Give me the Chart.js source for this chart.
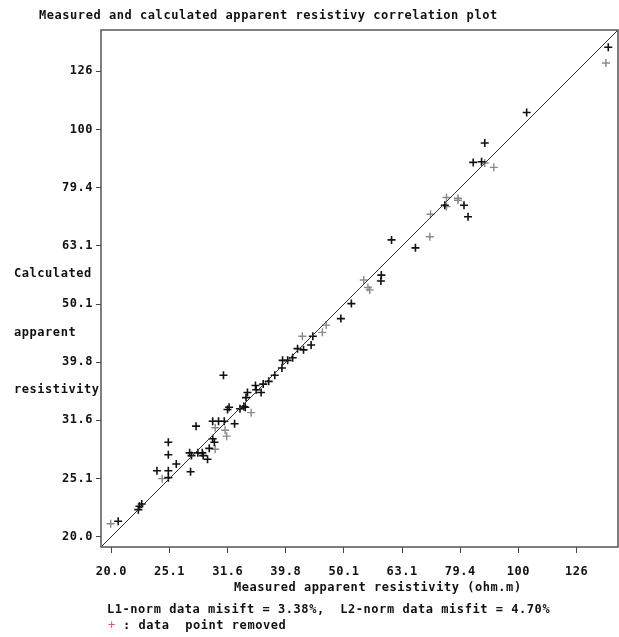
<!DOCTYPE html>
<html>
<head>
<meta charset="utf-8">
<script src="https://cdn.jsdelivr.net/npm/chart.js@4/dist/chart.umd.min.js"></script>
<style>
  html, body { margin: 0; padding: 0; background: #fff; }
</style>
</head>
<body>
<canvas id="corr" width="619" height="637"></canvas>
<script>
// apparent resistivity (ohm.m): measured vs calculated
const measuredMain = [20.5, 22.2, 22.3, 22.5, 31.1, 25.0, 25.0, 25.8, 23.9, 25.0, 25.0, 27.3,
  27.9, 27.2, 27.4, 28.1, 28.6, 28.7, 29.2, 29.4, 29.8, 30.0, 29.8, 30.5, 31.2, 32.5, 31.6,
  31.8, 33.2, 33.7, 33.9, 34.0, 34.2, 35.3, 35.4, 36.1, 36.4, 37.2, 38.1, 39.2, 39.3, 40.1,
  40.9, 41.7, 42.7, 44.0, 44.3, 49.5, 51.6, 58.1, 58.0, 60.5, 66.5, 74.7, 80.6, 81.9, 83.6,
  86.4, 87.5, 103.3, 142.7];
const calculatedMain = [21.2, 22.2, 22.5, 22.7, 37.8, 29.0, 27.6, 26.6, 25.9, 25.9, 25.2, 25.8,
  30.9, 27.8, 27.5, 27.8, 27.8, 27.5, 27.1, 28.3, 29.4, 29.0, 31.5, 31.5, 31.5, 31.2, 33.0,
  33.3, 33.1, 33.4, 33.3, 34.6, 35.3, 36.3, 35.7, 35.3, 36.5, 36.9, 37.8, 38.9, 40.1, 40.1,
  40.5, 42.0, 41.8, 42.6, 44.1, 47.3, 50.2, 56.2, 54.9, 64.6, 62.6, 74.1, 74.1, 70.8, 87.8,
  88.0, 94.8, 107.0, 138.5];

// second set of points, drawn in grey
const measuredGrey = [19.9, 24.4, 30.1, 30.1, 31.3, 31.5, 34.7, 42.5, 46.0, 46.7, 54.2, 55.1,
  55.5, 70.4, 70.6, 75.2, 75.2, 78.7, 78.7, 87.5, 90.7, 141.4];
const calculatedGrey = [21.0, 25.1, 28.2, 30.7, 30.4, 29.7, 32.6, 44.1, 44.8, 46.1, 55.1, 53.5,
  53.0, 65.4, 71.5, 73.7, 76.4, 76.2, 75.6, 87.6, 86.1, 130.1];

const tickValues = [19.953, 25.119, 31.623, 39.811, 50.119, 63.096, 79.433, 100, 125.893];
const tickLabels = ['20.0', '25.1', '31.6', '39.8', '50.1', '63.1', '79.4', '100', '126'];

const axisMin = 19.15;
const axisMax = 148.3;

const FONT_FAMILY = '"DejaVu Sans Mono", monospace';
const FONT = 'bold 12px ' + FONT_FAMILY;
const SPACING = '0.55px';

const toPoints = (xs, ys) => xs.map((x, i) => ({ x: x, y: ys[i] }));

const tickFont = { family: FONT_FAMILY, size: 12, weight: 'bold' };

const logAxis = (extra) => Object.assign({
  type: 'logarithmic',
  min: axisMin,
  max: axisMax,
  afterBuildTicks: (scale) => {
    scale.ticks = tickValues.map(v => ({ value: v }));
  },
  border: { display: false }
}, extra);

// frame round the plot area and all the free text
const framePlugin = {
  id: 'frameText',
  beforeLayout(chart) {
    chart.ctx.letterSpacing = SPACING;
  },
  beforeDraw(chart) {
    chart.ctx.letterSpacing = SPACING;
  },
  afterDraw(chart) {
    const ctx = chart.ctx;
    const a = chart.chartArea;
    ctx.save();
    ctx.strokeStyle = '#555';
    ctx.lineWidth = 1.5;
    ctx.strokeRect(a.left, a.top, a.right - a.left, a.bottom - a.top);

    ctx.letterSpacing = SPACING;
    ctx.font = FONT;
    ctx.fillStyle = '#111';
    ctx.textAlign = 'left';
    ctx.textBaseline = 'middle';
    ctx.fillText('Measured and calculated apparent resistivy correlation plot', 39, 16);

    ctx.fillText('Calculated', 14, 274);
    ctx.fillText('apparent', 14, 333);
    ctx.fillText('resistivity', 14, 390);

    ctx.fillText('Measured apparent resistivity (ohm.m)', 234, 588);
    ctx.fillText('L1-norm data misift = 3.38%,  L2-norm data misfit = 4.70%', 107, 610);

    ctx.fillStyle = '#e0506a';
    ctx.font = '12px ' + FONT_FAMILY;
    ctx.fillText('+', 108, 626);
    ctx.fillStyle = '#111';
    ctx.font = FONT;
    ctx.fillText(': data  point removed', 123, 626);
    ctx.restore();
  }
};

new Chart(document.getElementById('corr'), {
  type: 'scatter',
  data: {
    datasets: [
      {
        label: 'x = y',
        data: [{ x: axisMin, y: axisMin }, { x: axisMax, y: axisMax }],
        showLine: true,
        borderColor: '#333',
        borderWidth: 1,
        pointRadius: 0
      },
      {
        label: 'data',
        data: toPoints(measuredMain, calculatedMain),
        pointStyle: 'cross',
        pointRadius: 4,
        borderColor: '#111',
        borderWidth: 1.6
      },
      {
        label: 'data (grey)',
        data: toPoints(measuredGrey, calculatedGrey),
        pointStyle: 'cross',
        pointRadius: 4,
        borderColor: '#8a8a8a',
        borderWidth: 1.4
      }
    ]
  },
  options: {
    responsive: false,
    animation: false,
    layout: {
      autoPadding: false,
      padding: { top: 30, right: 1, bottom: 60, left: 0 }
    },
    plugins: {
      legend: { display: false },
      tooltip: { enabled: false }
    },
    scales: {
      x: logAxis({
        position: 'bottom',
        afterFit: (scale) => {
          scale.height = 30;
          scale.paddingLeft = 0;
          scale.paddingRight = 0;
        },
        grid: { drawOnChartArea: false, color: '#444', tickLength: 6 },
        ticks: {
          autoSkip: false, maxRotation: 0, color: '#111', padding: 12,
          font: tickFont,
          callback: (value, index) => tickLabels[index]
        }
      }),
      y: logAxis({
        position: 'left',
        afterFit: (scale) => {
          scale.width = 101;
          scale.paddingTop = 0;
          scale.paddingBottom = 0;
        },
        grid: { drawOnChartArea: false, color: '#444', tickLength: 5 },
        ticks: {
          autoSkip: false, color: '#111', padding: 3,
          font: tickFont,
          callback: (value, index) => tickLabels[index]
        }
      })
    }
  },
  plugins: [framePlugin]
});
</script>
</body>
</html>
